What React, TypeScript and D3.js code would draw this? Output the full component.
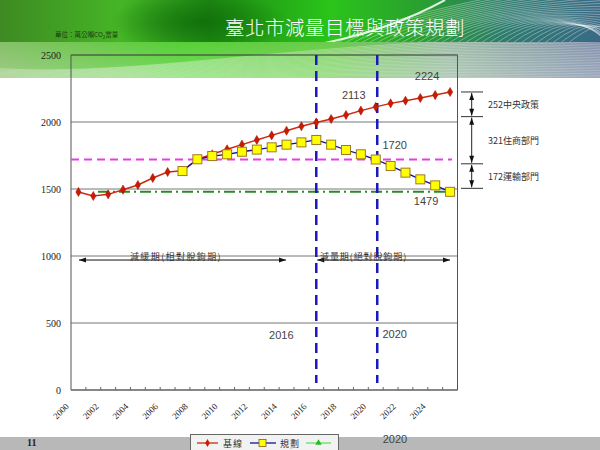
import React from "react";
import * as d3 from "d3";

const years = ["2000","2001","2002","2003","2004","2005","2006","2007","2008","2009","2010","2011","2012","2013","2014","2015","2016","2017","2018","2019","2020","2021","2022","2023","2024","2025"];
const xTickLabels = ["2000","2002","2004","2006","2008","2010","2012","2014","2016","2018","2020","2022","2024"];
const baseline = [1478,1448,1460,1495,1530,1582,1627,1636,1722,1759,1796,1831,1866,1900,1935,1968,1997,2022,2052,2085,2113,2139,2159,2179,2201,2224];
const planning: (number | null)[] = [null,null,null,null,null,null,null,1634,1722,1746,1759,1778,1794,1811,1831,1848,1866,1831,1791,1759,1720,1672,1622,1572,1527,1479];
const yTicks = [0,500,1000,1500,2000,2500];
const target2020 = 1720;
const target2025 = 1479;
const periodYears = ["2016","2020"];
const bracketLevels = [2224, 2040, 1688, 1505];
const bracketLabels = ["252中央政策","321住商部門","172運輸部門"];
const periodLabels = ["減緩期(相對脫鉤期)","減量期(絕對脫鉤期)"];
const legendLabels = ["基線","規劃",""];

const L = 71, R = 457.5, T = 55, B = 390;
const x = d3.scaleBand<string>().domain(years).range([L, R]);
const y = d3.scaleLinear().domain([0, 2500]).range([B, T]);
const cx = (yr: string) => (x(yr) as number) + x.bandwidth() / 2;

const CJK = "'Noto Sans CJK TC', sans-serif";
const SERIF = "'Liberation Serif', 'DejaVu Serif', serif";
const SANS = "'Liberation Sans', Arial, sans-serif";

function Header() {
  const swirlTop: string[] = [];
  for (let i = 0; i < 30; i++) {
    const p = d3.path();
    const sx = 335 + i * 8;
    p.moveTo(sx, 44);
    p.quadraticCurveTo(sx + 55, 12 - i * 0.4, 610, -24 + i * 3.0);
    swirlTop.push(p.toString());
  }
  const swirlLow: string[] = [];
  for (let i = 0; i < 24; i++) {
    const p = d3.path();
    p.moveTo(-10, 68 + i * 1.3);
    p.bezierCurveTo(150, 80 - i * 0.3, 350, 30 + i * 2.0, 610, 42 + i * 1.6);
    swirlLow.push(p.toString());
  }
  const edge = d3.path();
  edge.moveTo(320, 44);
  edge.quadraticCurveTo(390, 30, 445, 0);
  return (
    <g>
      <defs>
        <linearGradient id="hdr" x1="0" x2="1" y1="0" y2="0">
          <stop offset="0" stopColor="#3d8a22" />
          <stop offset="0.2" stopColor="#46b526" />
          <stop offset="0.35" stopColor="#1f8a12" />
          <stop offset="0.55" stopColor="#2ac41a" />
          <stop offset="0.7" stopColor="#2aa030" />
          <stop offset="0.85" stopColor="#2d7a70" />
          <stop offset="1" stopColor="#3a6a86" />
        </linearGradient>
        <linearGradient id="low" x1="0" x2="1" y1="0" y2="0">
          <stop offset="0" stopColor="#86c068" />
          <stop offset="0.3" stopColor="#56d036" />
          <stop offset="0.55" stopColor="#6acc4a" />
          <stop offset="0.75" stopColor="#90b49a" />
          <stop offset="1" stopColor="#7484a2" />
        </linearGradient>
        <linearGradient id="lowfade" x1="0" x2="0" y1="0" y2="1">
          <stop offset="0" stopColor="#ffffff" stopOpacity="0" />
          <stop offset="1" stopColor="#ffffff" stopOpacity="0.2" />
        </linearGradient>
        <radialGradient id="dark" cx="0.5" cy="0.5" r="0.5">
          <stop offset="0" stopColor="#0d6a0a" stopOpacity="0.8" />
          <stop offset="1" stopColor="#0d6a0a" stopOpacity="0" />
        </radialGradient>
        <clipPath id="topclip"><rect x="0" y="0" width="600" height="42" /></clipPath>
        <clipPath id="lowclip"><rect x="0" y="42" width="600" height="36" /></clipPath>
      </defs>
      <rect x="0" y="0" width="600" height="42" fill="url(#hdr)" />
      <ellipse cx="200" cy="22" rx="90" ry="30" fill="url(#dark)" />
      <g clipPath="url(#topclip)">
        {swirlTop.map((d, i) => (
          <path key={i} d={d} fill="none" stroke="#ffffff" strokeOpacity={0.5} strokeWidth={0.7} />
        ))}
        <path d={edge.toString()} fill="none" stroke="#ffffff" strokeOpacity={0.85} strokeWidth={2} />
      </g>
      <rect x="0" y="42" width="600" height="36" fill="url(#low)" />
      <rect x="0" y="42" width="600" height="36" fill="url(#lowfade)" />
      <g clipPath="url(#lowclip)">
        {swirlLow.map((d, i) => (
          <path key={i} d={d} fill="none" stroke="#ffffff" strokeOpacity={0.5} strokeWidth={0.6} />
        ))}
      </g>
      <text x={345} y={35} textAnchor="middle" fill="#ffffff" fontFamily={CJK} fontSize={19.5} fontWeight={300} letterSpacing={0.5}>臺北市減量目標與政策規劃</text>
      <text x={55} y={37} fill="#1a3a10" fontFamily={CJK} fontSize={6.5}>
        單位：萬公噸CO<tspan fontSize={4.5} dy={1.5}>2</tspan><tspan dy={-1.5}>當量</tspan>
      </text>
    </g>
  );
}

function arrowHead(xp: number, yp: number, dir: "l" | "r" | "u" | "d") {
  const s = 3.5;
  if (dir === "l") return `M${xp},${yp} L${xp + s * 2},${yp - s * 0.7} L${xp + s * 2},${yp + s * 0.7} Z`;
  if (dir === "r") return `M${xp},${yp} L${xp - s * 2},${yp - s * 0.7} L${xp - s * 2},${yp + s * 0.7} Z`;
  if (dir === "u") return `M${xp},${yp} L${xp - s * 0.7},${yp + s * 2} L${xp + s * 0.7},${yp + s * 2} Z`;
  return `M${xp},${yp} L${xp - s * 0.7},${yp - s * 2} L${xp + s * 0.7},${yp - s * 2} Z`;
}

export default function App() {
  const baseLine = d3.line<number>().x((_, i) => cx(years[i])).y((d) => y(d));
  const planLine = d3
    .line<number | null>()
    .defined((d) => d != null)
    .x((_, i) => cx(years[i]))
    .y((d) => y(d as number));
  const diamond = d3.symbol().type(d3.symbolDiamond).size(24)();
  const arrowY = y(970);
  const p1 = cx(periodYears[0]);
  const bx = 471.7;

  return (
    <svg width={600} height={450} style={{ position: "absolute", left: 0, top: 0, background: "#ffffff" }}>
      <rect x="0" y="0" width="600" height="450" fill="#ffffff" />
      <Header />

      {/* grid */}
      {yTicks.map((t) => (
        <line key={t} x1={L} x2={R} y1={y(t)} y2={y(t)} stroke={t === 2500 ? "#333" : "#777"} strokeWidth={1} />
      ))}
      <line x1={L} x2={L} y1={T} y2={B} stroke="#555" />
      <line x1={R} x2={R} y1={T} y2={B} stroke="#555" />
      <line x1={L} x2={R} y1={B} y2={B} stroke="#555" />
      {years.map((yr, i) => (i > 0 ? (
        <line key={yr} x1={x(yr) as number} x2={x(yr) as number} y1={B} y2={B - 3} stroke="#666" />
      ) : null))}

      {/* y tick labels */}
      {yTicks.map((t) => (
        <text key={t} x={61} y={y(t) + 3.5} textAnchor="end" fontFamily={SERIF} fontSize={10} fill="#222">{t}</text>
      ))}
      {/* x tick labels */}
      {xTickLabels.map((yr) => (
        <text key={yr} transform={`translate(${cx(yr) - 9},${B + 17}) rotate(-45)`} textAnchor="end" fontFamily={SERIF} fontSize={9} fill="#222">{yr}</text>
      ))}

      {/* target lines */}
      <line x1={L} x2={452} y1={y(target2020)} y2={y(target2020)} stroke="#e83ce8" strokeWidth={2} strokeDasharray="8 5" />
      <line x1={98} x2={451} y1={y(target2025)} y2={y(target2025)} stroke="#2a8a2a" strokeWidth={2} strokeDasharray="11 4 2 4" />

      {/* period lines */}
      {periodYears.map((yr, i) => (
        <line key={yr} x1={cx(yr) + (i === 1 ? 1.5 : 0)} x2={cx(yr) + (i === 1 ? 1.5 : 0)} y1={T} y2={383} stroke="#1a1ab8" strokeWidth={2.5} strokeDasharray="10 6" />
      ))}

      {/* series */}
      <path d={baseLine(baseline) as string} fill="none" stroke="#cc2a10" strokeWidth={1.5} />
      {baseline.map((v, i) => (
        <path key={i} d={diamond as string} transform={`translate(${cx(years[i])},${y(v)})`} fill="#cc1a00" stroke="#a01000" strokeWidth={0.5} />
      ))}
      <path d={planLine(planning) as string} fill="none" stroke="#101090" strokeWidth={1.3} />
      {planning.map((v, i) => (v == null ? null : (
        <rect key={i} x={cx(years[i]) - 4.5} y={y(v) - 4.5} width={9} height={9} fill="#ffff00" stroke="#a07a20" strokeWidth={1} />
      )))}

      {/* value labels */}
      <text x={cx("2025") - 23} y={y(baseline[25]) - 11.5} textAnchor="middle" fontFamily={SANS} fontSize={11} fill="#444">{baseline[25]}</text>
      <text x={cx("2020") - 22} y={y(baseline[20]) - 7.5} textAnchor="middle" fontFamily={SANS} fontSize={11} fill="#444">{baseline[20]}</text>
      <text x={cx("2020") + 19} y={y(planning[20] as number) - 11} textAnchor="middle" fontFamily={SANS} fontSize={11} fill="#444">{planning[20]}</text>
      <text x={cx("2025") - 24} y={y(planning[25] as number) + 13} textAnchor="middle" fontFamily={SANS} fontSize={11} fill="#444">{planning[25]}</text>
      <text x={cx("2016") - 35} y={y(380)} textAnchor="middle" fontFamily={SANS} fontSize={11} fill="#444">{periodYears[0]}</text>
      <text x={cx("2020") + 19} y={y(390)} textAnchor="middle" fontFamily={SANS} fontSize={11} fill="#444">{periodYears[1]}</text>

      {/* period arrows */}
      <line x1={79} x2={286} y1={arrowY} y2={arrowY} stroke="#111" strokeWidth={1} />
      <path d={arrowHead(79, arrowY, "l")} fill="#111" />
      <path d={arrowHead(286, arrowY, "r")} fill="#111" />
      <text x={176} y={arrowY - 0.5} textAnchor="middle" fontFamily={CJK} fontSize={9} letterSpacing={1.4} fill="#333">{periodLabels[0]}</text>
      <line x1={p1 + 1} x2={450} y1={arrowY} y2={arrowY} stroke="#111" strokeWidth={1} />
      <path d={arrowHead(p1 + 1, arrowY, "l")} fill="#111" />
      <path d={arrowHead(450, arrowY, "r")} fill="#111" />
      <text x={320} y={arrowY - 0.5} fontFamily={CJK} fontSize={9} letterSpacing={0.9} fill="#333">{periodLabels[1]}</text>

      {/* right brackets */}
      {bracketLevels.map((v, i) => (
        <line key={i} x1={461} x2={483} y1={y(v)} y2={y(v)} stroke="#333" strokeWidth={1} />
      ))}
      {bracketLabels.map((lab, i) => {
        const ya = y(bracketLevels[i]) + 1;
        const yb = y(bracketLevels[i + 1]) - 1;
        return (
          <g key={lab}>
            <line x1={bx} x2={bx} y1={ya} y2={yb} stroke="#222" />
            <path d={arrowHead(bx, ya, "u")} fill="#111" />
            <path d={arrowHead(bx, yb, "d")} fill="#111" />
            <text x={488} y={(ya + yb) / 2 + 3.5} fontFamily={CJK} fontSize={9} fill="#333">{lab}</text>
          </g>
        );
      })}

      {/* bottom band */}
      <rect x="0" y="437" width="600" height="13" fill="#b8b8b8" />
      <text x={27} y={446} fontFamily={SERIF} fontSize={10} fontWeight="bold" fill="#222">11</text>
      <text x={395} y={443} textAnchor="middle" fontFamily={SANS} fontSize={11} fill="#444">{periodYears[1]}</text>

      {/* legend */}
      <rect x={190.5} y={434.5} width={148} height={18} fill="#f2f2f2" stroke="#666" strokeWidth={1} />
      <line x1={197} x2={218} y1={443} y2={443} stroke="#cc2a10" strokeWidth={1.3} />
      <path d={d3.symbol().type(d3.symbolDiamond).size(18)() as string} transform="translate(207.5,443)" fill="#cc1a00" />
      <text x={223} y={446.5} fontFamily={CJK} fontSize={9} letterSpacing={1} fill="#333">{legendLabels[0]}</text>
      <line x1={250} x2={276} y1={443} y2={443} stroke="#1010a0" strokeWidth={1.3} />
      <rect x={259} y={439.5} width={7} height={7} fill="#ffff00" stroke="#806010" strokeWidth={0.8} />
      <text x={280} y={446.5} fontFamily={CJK} fontSize={9} letterSpacing={1} fill="#333">{legendLabels[1]}</text>
      <line x1={306} x2={331} y1={443} y2={443} stroke="#66dd66" strokeWidth={1.3} />
      <path d={d3.symbol().type(d3.symbolTriangle).size(18)() as string} transform="translate(318.5,443)" fill="#22bb22" />
      <text x={335} y={446.5} fontFamily={CJK} fontSize={9} fill="#333">{legendLabels[2]}</text>
    </svg>
  );
}
